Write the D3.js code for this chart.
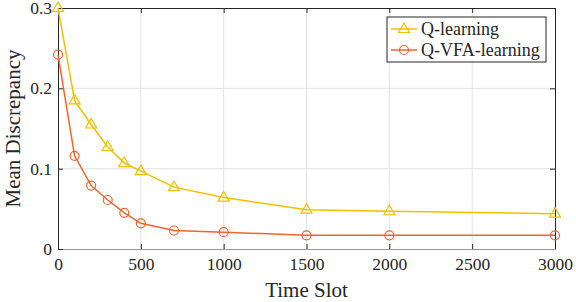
<!DOCTYPE html>
<html>
<head>
<meta charset="utf-8">
<script src="https://cdn.jsdelivr.net/npm/d3@7"></script>
<style>
  body { margin: 0; background: #fff; }
  svg text { font-family: 'Liberation Serif', 'DejaVu Serif', serif; fill: #262626; }
</style>
</head>
<body>
<svg id="chart" width="576" height="302"></svg>
<script>
// time slots sampled in the simulation
const timeSlots = [0, 100, 200, 300, 400, 500, 700, 1000, 1500, 2000, 3000];
const qLearning = [0.300, 0.185, 0.155, 0.127, 0.107, 0.097, 0.077, 0.064, 0.049, 0.047, 0.044];
const qVfaLearning = [0.242, 0.116, 0.079, 0.061, 0.045, 0.032, 0.023, 0.021, 0.017, 0.017, 0.017];
const xTicks = [0, 500, 1000, 1500, 2000, 2500, 3000];
const yTicks = [0, 0.1, 0.2, 0.3];

const series = [
    {name: 'Q-learning', values: qLearning, color: '#F4C000', marker: 'triangle'},
    {name: 'Q-VFA-learning', values: qVfaLearning, color: '#F0662A', marker: 'circle'}
];

const serif = "'Liberation Serif', 'DejaVu Serif', serif";
const margin = {top: 8, right: 21, bottom: 53, left: 58};
const width = 576, height = 302;

const svg = d3.select('#chart');

const x = d3.scaleLinear().domain([0, 3000]).range([margin.left, width - margin.right]);
const y = d3.scaleLinear().domain([0, 0.3]).range([height - margin.bottom, margin.top]);

// grid
svg.append('g')
    .selectAll('line')
    .data(xTicks.slice(1, -1))
    .join('line')
        .attr('x1', d => x(d)).attr('x2', d => x(d))
        .attr('y1', y(0)).attr('y2', y(0.3))
        .attr('stroke', '#e3e3e3').attr('stroke-width', 1);
svg.append('g')
    .selectAll('line')
    .data(yTicks.slice(1, -1))
    .join('line')
        .attr('x1', x(0)).attr('x2', x(3000))
        .attr('y1', d => y(d)).attr('y2', d => y(d))
        .attr('stroke', '#e3e3e3').attr('stroke-width', 1);

// axes (ticks point inward, MATLAB style)
const tickLen = 5;
const bottomAxis = d3.axisBottom(x).tickValues(xTicks).tickSize(-tickLen).tickPadding(9).tickFormat(d3.format('d'));
const leftAxis = d3.axisLeft(y).tickValues(yTicks).tickSize(-tickLen).tickPadding(6).tickFormat(d => d === 0 ? '0' : d3.format('.1f')(d));
const topAxis = d3.axisTop(x).tickValues(xTicks).tickSize(-tickLen).tickFormat('');
const rightAxis = d3.axisRight(y).tickValues(yTicks).tickSize(-tickLen).tickFormat('');

function styleAxis(g, lineColor) {
    g.attr('font-family', serif);
    g.select('.domain').attr('stroke', lineColor).attr('stroke-width', 1);
    g.selectAll('.tick line').attr('stroke', '#262626');
    g.selectAll('.tick text')
        .style('font-family', serif)
        .attr('font-size', 17.5)
        .attr('fill', '#262626');
}

svg.append('g').attr('transform', `translate(0,${y(0.3)})`).call(topAxis).call(g => styleAxis(g, '#262626'));
svg.append('g').attr('transform', `translate(${x(3000)},0)`).call(rightAxis).call(g => styleAxis(g, '#262626'));
svg.append('g').attr('transform', `translate(0,${y(0)})`).call(bottomAxis).call(g => styleAxis(g, '#9a9a9a'));
svg.append('g').attr('transform', `translate(${x(0)},0)`).call(leftAxis).call(g => styleAxis(g, '#262626'));

// axis labels
svg.append('text')
    .attr('x', (x(0) + x(3000)) / 2).attr('y', 297)
    .attr('text-anchor', 'middle').attr('font-size', 21)
    .style('font-family', serif)
    .text('Time Slot');
svg.append('text')
    .attr('transform', `translate(20,${(y(0) + y(0.3)) / 2}) rotate(-90)`)
    .attr('text-anchor', 'middle').attr('font-size', 21)
    .style('font-family', serif)
    .text('Mean Discrepancy');

// lines + markers
const line = d3.line().x((d, i) => x(timeSlots[i])).y(d => y(d));
const triPath = 'M0,-6L5.5,3.5L-5.5,3.5Z';

function drawMarker(g, s, cx, cy) {
    if (s.marker === 'triangle') {
        g.append('path').attr('d', triPath).attr('transform', `translate(${cx},${cy})`)
            .attr('fill', 'none').attr('stroke', s.color).attr('stroke-width', 1.2);
    } else {
        g.append('circle').attr('cx', cx).attr('cy', cy).attr('r', 4.5)
            .attr('fill', 'none').attr('stroke', s.color).attr('stroke-width', 1.2);
    }
}

series.forEach(s => {
    const g = svg.append('g');
    g.append('path').datum(s.values).attr('d', line)
        .attr('fill', 'none').attr('stroke', s.color).attr('stroke-width', 1.5);
    s.values.forEach((v, i) => drawMarker(g, s, x(timeSlots[i]), y(v)));
});

// legend
const lg = svg.append('g').attr('transform', 'translate(387,17)');
lg.append('rect').attr('width', 159).attr('height', 45)
    .attr('fill', '#fff').attr('stroke', '#262626').attr('stroke-width', 1);
series.forEach((s, i) => {
    const ly = 12 + i * 21;
    lg.append('line').attr('x1', 4).attr('x2', 30).attr('y1', ly).attr('y2', ly)
        .attr('stroke', s.color).attr('stroke-width', 1.5);
    drawMarker(lg, s, 17, ly);
    lg.append('text').attr('x', 34).attr('y', ly + 6).attr('font-size', 18)
        .style('font-family', serif).text(s.name);
});
</script>
</body>
</html>
